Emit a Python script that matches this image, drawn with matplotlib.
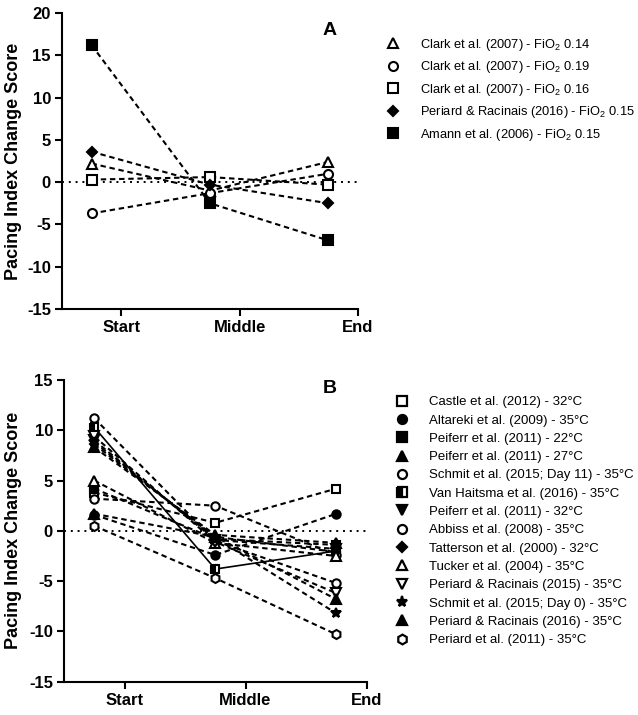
import matplotlib
matplotlib.use('Agg')
import matplotlib.pyplot as plt
from matplotlib.lines import Line2D

plt.rcParams['font.family'] = ['Liberation Sans', 'DejaVu Sans']
plt.rcParams['axes.unicode_minus'] = False
plt.rcParams['mathtext.default'] = 'regular'

phases = ['Start', 'Middle', 'End']
pt_x = [0.75, 1.75, 2.75]   # points sit left of the category ticks

# Panel A - hypoxia
a_labels = ['Clark et al. (2007) - FiO$_2$ 0.14',
            'Clark et al. (2007) - FiO$_2$ 0.19',
            'Clark et al. (2007) - FiO$_2$ 0.16',
            'Periard & Racinais (2016) - FiO$_2$ 0.15',
            'Amann et al. (2006) - FiO$_2$ 0.15']
a_values = [[2.2, -1.0, 2.4],
            [-3.7, -1.3, 1.0],
            [0.3, 0.6, -0.3],
            [3.6, -0.3, -2.5],
            [16.2, -2.5, -6.9]]
a_markers = ['^', 'o', 's', 'D', 's']
a_filled = [False, False, False, True, True]

# Panel B - heat
b_labels = ['Castle et al. (2012) - 32°C',
            'Altareki et al. (2009) - 35°C',
            'Peiferr et al. (2011) - 22°C',
            'Peiferr et al. (2011) - 27°C',
            'Schmit et al. (2015; Day 11) - 35°C',
            'Van Haitsma et al. (2016) - 35°C',
            'Peiferr et al. (2011) - 32°C',
            'Abbiss et al. (2008) - 35°C',
            'Tatterson et al. (2000) - 32°C',
            'Tucker et al. (2004) - 35°C',
            'Periard & Racinais (2015) - 35°C',
            'Schmit et al. (2015; Day 0) - 35°C',
            'Periard & Racinais (2016) - 35°C',
            'Periard et al. (2011) - 35°C']
b_values = [[3.8, 0.8, 4.2],
            [1.6, -2.4, 1.7],
            [4.2, -0.8, -1.4],
            [8.3, -0.4, -1.2],
            [11.2, -1.0, -5.2],
            [10.3, -3.8, -2.0],
            [9.0, -0.9, -1.8],
            [3.2, 2.5, -2.4],
            [8.6, -0.6, -2.1],
            [5.0, -1.2, -2.5],
            [9.4, -1.1, -6.2],
            [8.8, -0.7, -8.2],
            [1.7, -0.6, -6.8],
            [0.5, -4.7, -10.3]]
b_markers = ['s', 'o', 's', '^', 'o', 's', 'v', 'o', 'D', '^', 'v', '*', '^', 'h']
b_fill = ['none', 'full', 'full', 'full', 'none', 'left', 'full', 'none',
          'full', 'none', 'none', 'full', 'full', 'none']
b_solid = 5  # Van Haitsma drawn with a solid line

W, H = 638, 715
fig = plt.figure(figsize=(W / 100, H / 100), dpi=100)
axA = fig.add_axes([62 / W, 1 - 309 / H, 296 / W, 296 / H])
axB = fig.add_axes([64 / W, 1 - 681.7 / H, 302.5 / W, 301.7 / H])

dash = (0, (2.6, 1.8))
ms_map = {'s': 6.5, 'o': 6.5, '^': 7, 'v': 7, 'D': 5, '*': 8, 'h': 7}


def style_axis(ax, ylim, step):
    ax.set_xlim(0.5, 3.0)
    ax.set_ylim(*ylim)
    ax.set_xticks([1, 2, 3])
    ax.set_xticklabels(phases, fontsize=12, fontweight='bold')
    ax.set_yticks(range(ylim[0], ylim[1] + 1, step))
    for lab in ax.get_yticklabels():
        lab.set_fontsize(12)
        lab.set_fontweight('bold')
    ax.spines['top'].set_visible(False)
    ax.spines['right'].set_visible(False)
    for s in ['left', 'bottom']:
        ax.spines[s].set_linewidth(1.5)
    ax.tick_params(width=1.5, length=5, direction='out', pad=3)
    ax.axhline(0, color='black', lw=1.4, ls=(0, (1, 2.5)), zorder=1)
    ax.set_ylabel('Pacing Index Change Score', fontsize=13, fontweight='bold')


# Panel A
handlesA = []
for vals, m, f, lab in zip(a_values, a_markers, a_filled, a_labels):
    fc = 'black' if f else 'white'
    ax_ms = ms_map[m]
    axA.plot(pt_x, vals, color='black', lw=1.5, ls=dash, marker=m, ms=ax_ms,
             mfc=fc, mec='black', mew=1.5, zorder=3, clip_on=False)
    handlesA.append(Line2D([], [], ls='none', marker=m, ms=ax_ms, mfc=fc,
                           mec='black', mew=1.5, label=lab))
style_axis(axA, (-15, 20), 5)
axA.yaxis.set_label_coords(-0.135, 0.5)
axA.text(0.905, 0.94, 'A', transform=axA.transAxes, fontsize=14,
         fontweight='bold', ha='center', va='center')
fig.legend(handles=handlesA, loc='upper left',
           bbox_to_anchor=(386.4 / W, 1 - 37 / H), frameon=False,
           fontsize=9.3, handlelength=1.0, handletextpad=1.6,
           labelspacing=0.5, borderpad=0, borderaxespad=0)

# Panel B
handlesB = []
for i, (vals, m, f, lab) in enumerate(zip(b_values, b_markers, b_fill, b_labels)):
    ls = '-' if i == b_solid else dash
    lw = 1.2 if i == b_solid else 1.5
    ms = ms_map[m] - 0.5
    if f == 'none':
        kw = dict(mfc='white', fillstyle='full')
    elif f == 'left':
        kw = dict(mfc='black', fillstyle='left', markerfacecoloralt='white')
    else:
        kw = dict(mfc='black', fillstyle='full')
    axB.plot(pt_x, vals, color='black', lw=lw, ls=ls, marker=m, ms=ms,
             mec='black', mew=1.5, zorder=3, clip_on=False, **kw)
    handlesB.append(Line2D([], [], ls='none', marker=m, ms=ms + 0.5, mec='black',
                           mew=1.6, label=lab, **kw))
style_axis(axB, (-15, 15), 5)
axB.yaxis.set_label_coords(-0.139, 0.5)
axB.text(0.88, 0.973, 'B', transform=axB.transAxes, fontsize=14,
         fontweight='bold', ha='center', va='center')
fig.legend(handles=handlesB, loc='upper left',
           bbox_to_anchor=(395.4 / W, 1 - 396 / H), frameon=False,
           fontsize=9.5, handlelength=1.0, handletextpad=1.52,
           labelspacing=0.46, borderpad=0, borderaxespad=0)

fig.savefig('out.png', dpi=100)
